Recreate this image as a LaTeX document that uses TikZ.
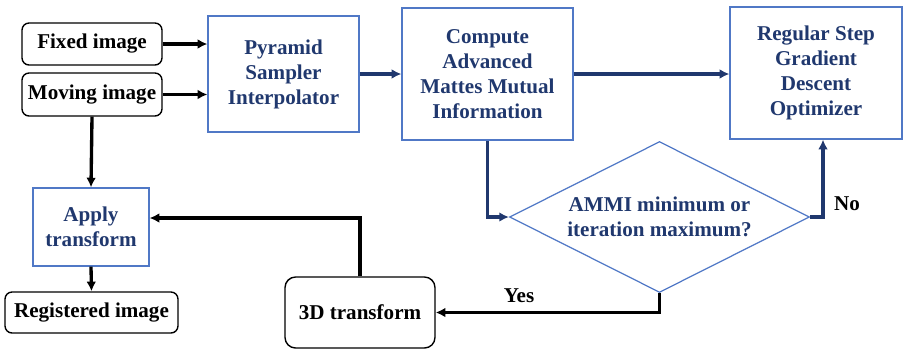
\documentclass[tikz,border=0pt]{standalone}
\usepackage{fontspec}
\setmainfont{Liberation Serif}
\usepackage{tikz}
\usetikzlibrary{shapes.geometric,arrows.meta}

\definecolor{boxblue}{RGB}{80,120,198}
\definecolor{navy}{RGB}{32,56,110}

\tikzset{
    txt/.style={font=\fontsize{12}{14.2}\selectfont\bfseries},
    imgbox/.style={txt, draw=black, line width=0.8pt, rounded corners=4pt, inner sep=0pt},
    stagebox/.style={txt, draw=boxblue, line width=0.7pt, text=navy, align=center, inner sep=0pt},
    blackflow/.style={line width=1.9pt, -{Latex[length=5.5pt,width=5.5pt]}},
    blueflow/.style={blackflow, draw=navy}
}

\begin{document}
\begin{tikzpicture}[x=0.02cm, y=-0.02cm]
    \useasboundingbox (0,0) rectangle (909,349);
    % inputs and outputs
    \node [imgbox, minimum width=2.8cm, minimum height=0.84cm] (fixed) at (92,44) {Fixed image};
    \node [imgbox, minimum width=2.8cm, minimum height=0.86cm] (moving) at (92,94.5) {Moving image};
    \node [imgbox, minimum width=3.46cm, minimum height=0.82cm] (registered) at (91.5,312.5) {Registered image};
    \node [imgbox, rounded corners=6pt, minimum width=3.0cm, minimum height=1.42cm] (transform) at (360,312.5) {3D transform};
    % registration stages
    \node [stagebox, minimum width=3.02cm, minimum height=2.32cm] (pyramid) at (283.5,74) {Pyramid\\Sampler\\Interpolator};
    \node [stagebox, minimum width=3.42cm, minimum height=2.64cm] (compute) at (487.5,74) {Compute\\Advanced\\Mattes Mutual\\Information};
    \node [stagebox, minimum width=3.44cm, minimum height=2.64cm] (optimizer) at (816,73) {Regular Step\\Gradient\\Descent\\Optimizer};
    \node [stagebox, minimum width=2.32cm, minimum height=1.56cm] (applyT) at (91,227) {Apply\\transform};
    \node [stagebox, diamond, aspect=2, minimum width=6cm, minimum height=3.02cm] (check) at (659.5,217) {AMMI minimum or\\iteration maximum?};
    \coordinate (noturn) at (823,217);
    \coordinate (backturn) at (360,218);
    % connectors
    \draw [blackflow] (fixed) -- (fixed -| pyramid.west);
    \draw [blackflow] (moving) -- (moving -| pyramid.west);
    \draw [blackflow] (moving.south) -- (applyT.north);
    \draw [blackflow] (applyT.south) -- (registered.north);
    \draw [blueflow] (pyramid.east) -- (compute.west);
    \draw [blueflow] (compute.east) -- (optimizer.west |- compute.east);
    \draw [blueflow] (compute.south) |- (check.west);
    \draw [blueflow] (check.east) -- (noturn) -- (noturn |- optimizer.south);
    \draw [blackflow] (check.south) |- (transform.east);
    \draw [blackflow] (transform.north) -- (backturn) -- (backturn -| applyT.east);
    \node [txt] (nolabel) at (847,204) {No};
    \node [txt] (yeslabel) at (519,296) {Yes};
\end{tikzpicture}
\end{document}
